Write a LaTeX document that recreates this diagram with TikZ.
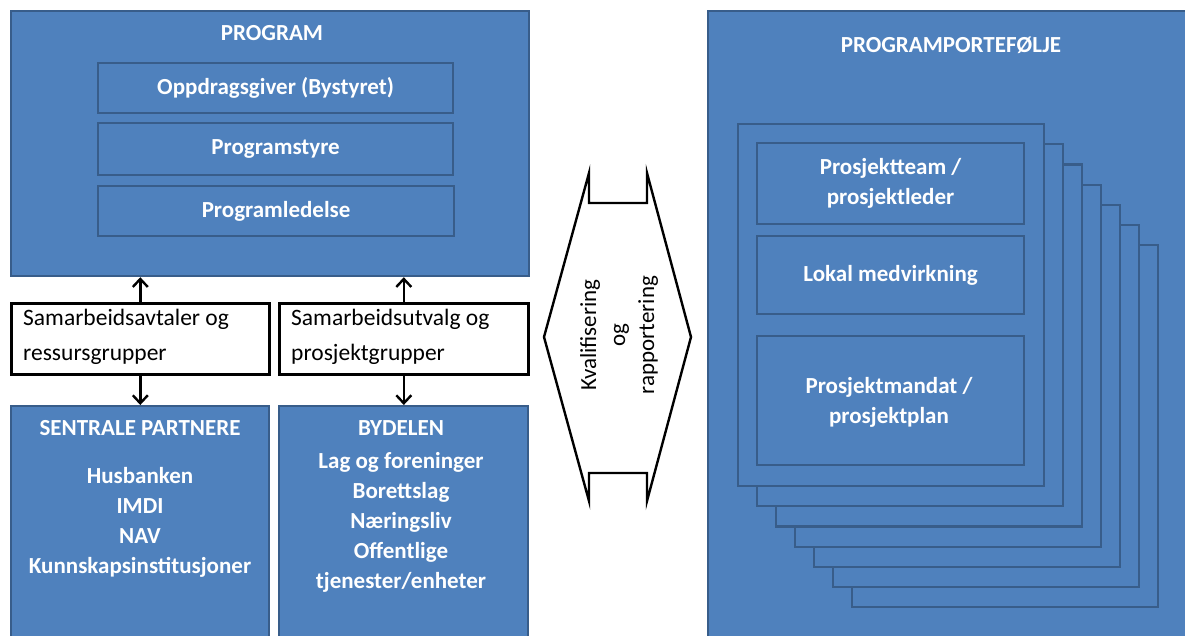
\documentclass[tikz,border=0pt]{standalone}
\usepackage{fontspec}
\setmainfont{Carlito}
\usetikzlibrary{calc,arrows.meta}
\definecolor{boxblue}{HTML}{4F81BD}
\definecolor{boxedge}{HTML}{385D8A}
\tikzset{
  bluebox/.style={draw=boxedge, fill=boxblue, line width=2.2pt, anchor=north west, inner sep=0pt},
  whitebox/.style={draw=black, fill=white, line width=2.6pt, anchor=north west, inner sep=0pt},
  wtext/.style={text=white, font=\fontsize{23}{30}\selectfont\bfseries, align=center, inner sep=0pt},
  btext/.style={text=black, font=\fontsize{23.5}{35}\selectfont, align=left, inner sep=0pt, anchor=west},
  arr/.style={draw=black, line width=2.6pt, -{Straight Barb[length=8pt,width=15pt,line width=2.4pt]}},
}
\begin{document}
\begin{tikzpicture}[x=1pt,y=-1pt]
\useasboundingbox (0,0) rectangle (1185,635);
\begin{scope}
\clip (0,0) rectangle (1185,635);
% PROGRAM block
\node[bluebox, minimum width=518pt, minimum height=265pt] (prog) at (10,10) {};
\node[wtext] (progT) at (272,33) {PROGRAM};
\node[bluebox, minimum width=355pt, minimum height=50pt] (opp) at (97,62) {};
\node[wtext] at (opp.center) {Oppdragsgiver (Bystyret)};
\node[bluebox, minimum width=355pt, minimum height=52pt] (pst) at (97,122) {};
\node[wtext] at (pst.center) {Programstyre};
\node[bluebox, minimum width=356pt, minimum height=50pt] (pled) at (97,185) {};
\node[wtext] at (pled.center) {Programledelse};
% white boxes
\node[whitebox, minimum width=258pt, minimum height=71pt] (sa) at (10,302) {};
\node[btext] (saT) at (23,337) {Samarbeidsavtaler og\\ressursgrupper};
\node[whitebox, minimum width=249pt, minimum height=71pt] (su) at (278,302) {};
\node[btext] (suT) at (291,337) {Samarbeidsutvalg og\\prosjektgrupper};
% lower blocks
\node[bluebox, minimum width=258pt, minimum height=260pt] (sp) at (10,405) {};
\node[wtext] (spT) at (140,428) {SENTRALE PARTNERE};
\node[wtext] (spL) at (140,522) {Husbanken\\IMDI\\NAV\\Kunnskapsinstitusjoner};
\node[bluebox, minimum width=249pt, minimum height=260pt] (by) at (278,405) {};
\node[wtext] (byT) at (401,428) {BYDELEN};
\node[wtext] (byL) at (401,522) {Lag og foreninger\\Borettslag\\Næringsliv\\Offentlige\\tjenester/enheter};
% arrows
\draw[arr] (sa.north) -- (sa.north |- prog.south);
\draw[arr] (su.north) -- (su.north |- prog.south);
\draw[arr] (sa.south) -- (sa.south |- sp.north);
\draw[arr] (su.south) -- (su.south |- by.north);
% middle double arrow
\draw[line width=2.4pt, fill=white, line join=miter]
  (589,173) -- (589,203) -- (647,203) -- (647,173) -- (691,337) -- (647,501)
  -- (647,473) -- (589,473) -- (589,501) -- (544,337) -- cycle;
\node[rotate=90, font=\fontsize{23}{29}\selectfont, align=center, inner sep=0pt] (kv) at (619,335) {Kvalifisering\\og\\rapportering};
% portfolio
\node[bluebox, minimum width=495pt, minimum height=660pt] (pf) at (707,10) {};
\node[wtext] (pfT) at (951,45) {PROGRAMPORTEFØLJE};
\foreach \i in {6,5,...,0} {
  \node[bluebox, minimum width=306pt, minimum height=362pt] (card\i) at (737+19*\i,123+20.2*\i) {};
}
\node[bluebox, minimum width=267pt, minimum height=81pt] (pt) at (756,142) {};
\node[wtext] at (pt.center) {Prosjektteam /\\prosjektleder};
\node[bluebox, minimum width=267pt, minimum height=78pt] (lm) at (756,235) {};
\node[wtext] at (lm.center) {Lokal medvirkning};
\node[bluebox, minimum width=267pt, minimum height=129pt] (pm) at (756,335) {};
\node[wtext] at (889,402) {Prosjektmandat /\\prosjektplan};
\end{scope}
\end{tikzpicture}
\end{document}
